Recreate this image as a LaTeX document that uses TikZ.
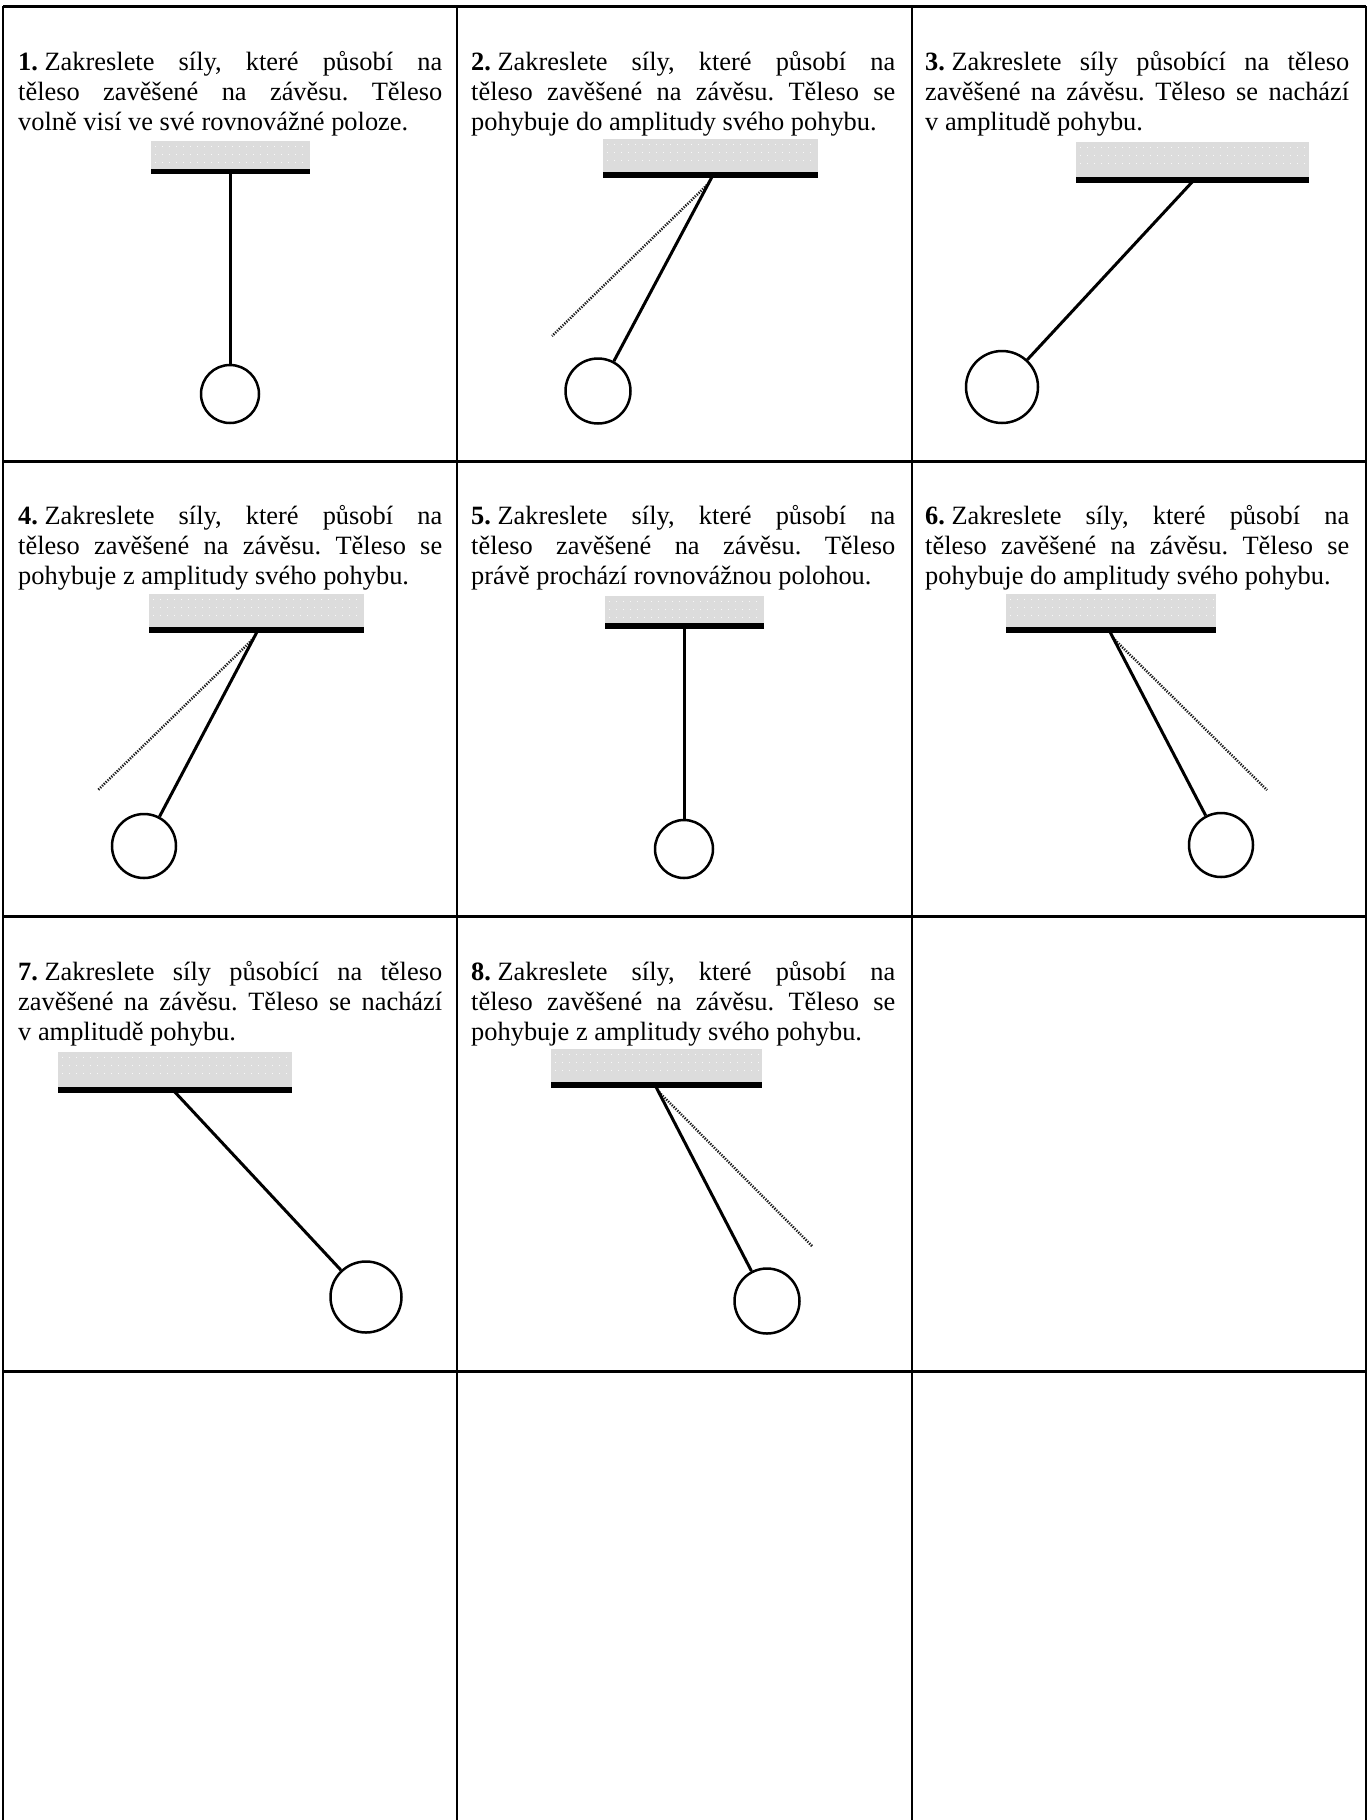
\documentclass[tikz,border=0pt]{standalone}
\usepackage{fontspec}
\setmainfont{Liberation Serif}
\definecolor{ceilgray}{RGB}{220,220,220}
\definecolor{ghostgray}{RGB}{30,30,30}
\newcommand{\cellsetup}{\frenchspacing\tolerance=10000 \hyphenpenalty=10000 \strut}
\newcommand{\num}[1]{\textbf{#1.}\hspace{6.6pt}}
\newcommand{\drawceiling}[4]{%
  \fill[ceil] (#1,#2) rectangle (#3,#4);
  \foreach \dy in {5,13,21} \draw[ceildots] (#1+4,#2+\dy) -- (#3-2,#2+\dy);
}
\begin{document}
\begin{tikzpicture}[x=1pt,y=-1pt,
  gridv/.style={line width=2.5pt, black},
  gridh/.style={line width=3pt, black},
  txt/.style={anchor=north west, inner sep=0pt, text width=424pt, align=justify,
    font=\fontsize{26.4}{30}\selectfont},
  ceil/.style={fill=ceilgray, draw=none},
  ceildots/.style={white!80!ceilgray, line width=1pt, dash pattern=on 1pt off 6pt},
  barstyle/.style={fill=black, draw=none},
  rod/.style={line width=3pt, black},
  bob/.style={circle, draw=black, line width=2.5pt, fill=white, inner sep=0pt},
  ghost/.style={line width=2.5pt, ghostgray, dash pattern=on 1.3pt off 1.3pt}
]
\useasboundingbox (0,0) rectangle (1368,1820);

% grid
\foreach \gx in {3,457,912,1366} \draw[gridv] (\gx,6) -- (\gx,1820);
\foreach \gy in {6,461,916,1371} \draw[gridh] (3,\gy) -- (1366,\gy);

% texts (strut height = 21pt above the first baseline)
\node[txt] (t1) at (18,49) {\cellsetup\num{1}Zakreslete síly, které působí na \linebreak těleso zavěšené na závěsu. Těleso \linebreak volně visí ve své rovnovážné poloze.};
\node[txt] (t2) at (471,49) {\cellsetup\num{2}Zakreslete síly, které působí na \linebreak těleso zavěšené na závěsu. Těleso se \linebreak pohybuje do amplitudy svého pohybu.};
\node[txt] (t3) at (925,49) {\cellsetup\num{3}Zakreslete síly působící na těleso \linebreak zavěšené na závěsu. Těleso se nachází \linebreak v amplitudě pohybu.};
\node[txt] (t4) at (18,503) {\cellsetup\num{4}Zakreslete síly, které působí na \linebreak těleso zavěšené na závěsu. Těleso se \linebreak pohybuje z amplitudy svého pohybu.};
\node[txt] (t5) at (471,503) {\cellsetup\num{5}Zakreslete síly, které působí na \linebreak těleso zavěšené na závěsu. Těleso \linebreak právě prochází rovnovážnou polohou.};
\node[txt] (t6) at (925,503) {\cellsetup\num{6}Zakreslete síly, které působí na \linebreak těleso zavěšené na závěsu. Těleso se \linebreak pohybuje do amplitudy svého pohybu.};
\node[txt] (t7) at (18,959) {\cellsetup\num{7}Zakreslete síly působící na těleso \linebreak zavěšené na závěsu. Těleso se nachází \linebreak v amplitudě pohybu.};
\node[txt] (t8) at (471,959) {\cellsetup\num{8}Zakreslete síly, které působí na \linebreak těleso zavěšené na závěsu. Těleso se \linebreak pohybuje z amplitudy svého pohybu.};

% pendulum 1
\drawceiling{151}{141}{310}{169}
\coordinate (p1) at (230,171);
\node[bob, minimum size=58pt] (b1) at (230,394) {};
\draw[rod] (p1) -- (b1);
\fill[barstyle] (151,169) rectangle (310,174);

% pendulum 2
\drawceiling{603}{139}{818}{172}
\coordinate (p2) at (713,175);
\coordinate (g2a) at (707,185);
\coordinate (g2b) at (552,336);
\draw[ghost] (g2a) -- (g2b);
\node[bob, minimum size=65pt] (b2) at (598,391) {};
\draw[rod] (p2) -- (b2);
\fill[barstyle] (603,172) rectangle (818,178);

% pendulum 3
\drawceiling{1076}{142}{1309}{177}
\coordinate (p3) at (1194,180);
\node[bob, minimum size=72pt] (b3) at (1002,387) {};
\draw[rod] (p3) -- (b3);
\fill[barstyle] (1076,177) rectangle (1309,183);

% pendulum 4
\drawceiling{149}{594}{364}{627}
\coordinate (p4) at (258,630);
\coordinate (g4a) at (252,640);
\coordinate (g4b) at (98,790);
\draw[ghost] (g4a) -- (g4b);
\node[bob, minimum size=64pt] (b4) at (144,846) {};
\draw[rod] (p4) -- (b4);
\fill[barstyle] (149,627) rectangle (364,633);

% pendulum 5
\drawceiling{605}{596}{764}{623}
\coordinate (p5) at (684,626);
\node[bob, minimum size=58pt] (b5) at (684,849) {};
\draw[rod] (p5) -- (b5);
\fill[barstyle] (605,623) rectangle (764,629);

% pendulum 6
\drawceiling{1006}{594}{1216}{627}
\coordinate (p6) at (1109,630);
\coordinate (g6a) at (1113,638);
\coordinate (g6b) at (1267,790);
\draw[ghost] (g6a) -- (g6b);
\node[bob, minimum size=64pt] (b6) at (1221,845) {};
\draw[rod] (p6) -- (b6);
\fill[barstyle] (1006,627) rectangle (1216,633);

% pendulum 7
\drawceiling{58}{1052}{292}{1087}
\coordinate (p7) at (173,1090);
\node[bob, minimum size=71pt] (b7) at (366,1297) {};
\draw[rod] (p7) -- (b7);
\fill[barstyle] (58,1087) rectangle (292,1093);

% pendulum 8
\drawceiling{551}{1049}{762}{1082}
\coordinate (p8) at (655,1085);
\coordinate (g8a) at (659,1092);
\coordinate (g8b) at (812,1246);
\draw[ghost] (g8a) -- (g8b);
\node[bob, minimum size=65pt] (b8) at (767,1301) {};
\draw[rod] (p8) -- (b8);
\fill[barstyle] (551,1082) rectangle (762,1088);

\end{tikzpicture}
\end{document}
